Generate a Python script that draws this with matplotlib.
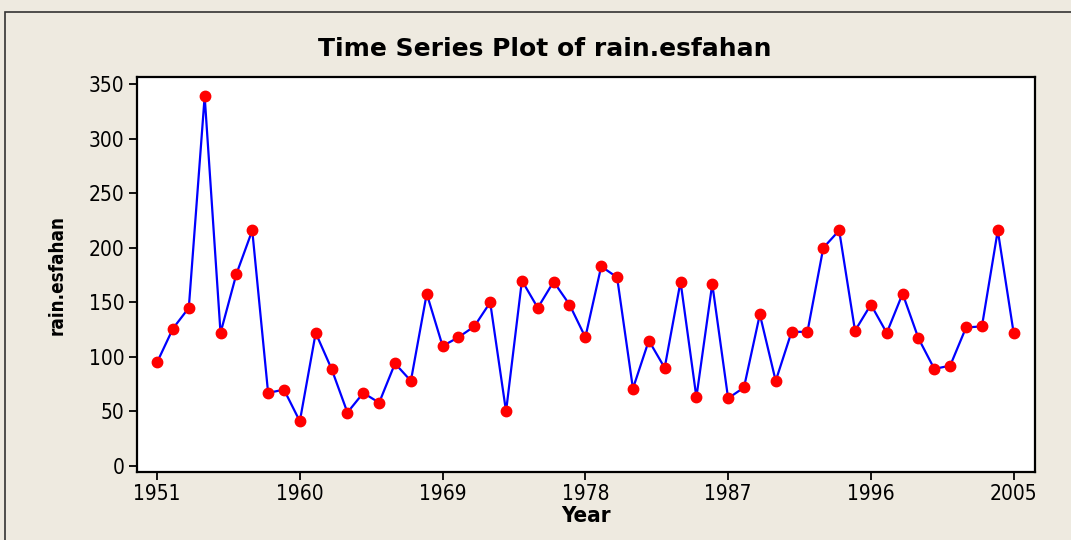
import matplotlib
matplotlib.use('Agg')
import matplotlib.pyplot as plt
from matplotlib.patches import Rectangle

#rain values, one per year
years = list(range(1951, 2006))
rain = [95, 126, 145, 339, 122, 176, 216, 67, 70, 41,
        122, 89, 49, 67, 58, 94, 78, 158, 110, 118,
        128, 150, 50, 170, 145, 169, 148, 118, 183, 173,
        71, 115, 90, 169, 63, 167, 62, 72, 139, 78,
        123, 123, 200, 216, 124, 148, 122, 158, 117, 89,
        92, 127, 128, 216, 122]
x_ticks = [1951, 1960, 1969, 1978, 1987, 1996, 2005]
y_ticks = [0, 50, 100, 150, 200, 250, 300, 350]

bg = '#EEEAE0'
fig = plt.figure(figsize=(10.71, 5.40), dpi=100, facecolor=bg)
ax = fig.add_axes([0.128, 0.126, 0.838, 0.731])

#outer frame like the minitab window
fig.patches.append(Rectangle((5 / 1071, -0.01), 1.1, 1 - 12 / 540 + 0.01, transform=fig.transFigure,
                             fill=False, edgecolor='#333333', linewidth=1.2))

ax.plot(years, rain, color='#0000FF', linewidth=1.6, zorder=2)
ax.plot(years, rain, linestyle='none', marker='o', markersize=7.5,
        markerfacecolor='#FF0000', markeredgecolor='#FF0000', zorder=3)

ax.set_xlim(1949.74, 2006.32)
ax.set_ylim(-5.5, 356.5)
ax.set_xticks(x_ticks)
ax.set_yticks(y_ticks)

tick_font = {'family': 'DejaVu Sans', 'stretch': 'condensed', 'size': 15}
ax.set_xticklabels([str(t) for t in x_ticks], fontdict=tick_font)
ax.set_yticklabels([str(t) for t in y_ticks], fontdict=tick_font)
ax.tick_params(direction='out', length=6, width=1.3, color='black', pad=3)

for s in ax.spines.values():
    s.set_linewidth(1.6); s.set_color('black')

ax.set_xlabel('Year', fontsize=16, fontweight='bold', family='DejaVu Sans', stretch='condensed', labelpad=1)
ax.set_ylabel('rain.esfahan', fontsize=13.5, fontweight='bold', family='DejaVu Sans', stretch='condensed', labelpad=16)
fig.text(0.509, 0.91, 'Time Series Plot of rain.esfahan', ha='center', va='center',
         fontsize=18, fontweight='bold', family='DejaVu Sans')

fig.savefig('out.png', dpi=100, facecolor=bg)
